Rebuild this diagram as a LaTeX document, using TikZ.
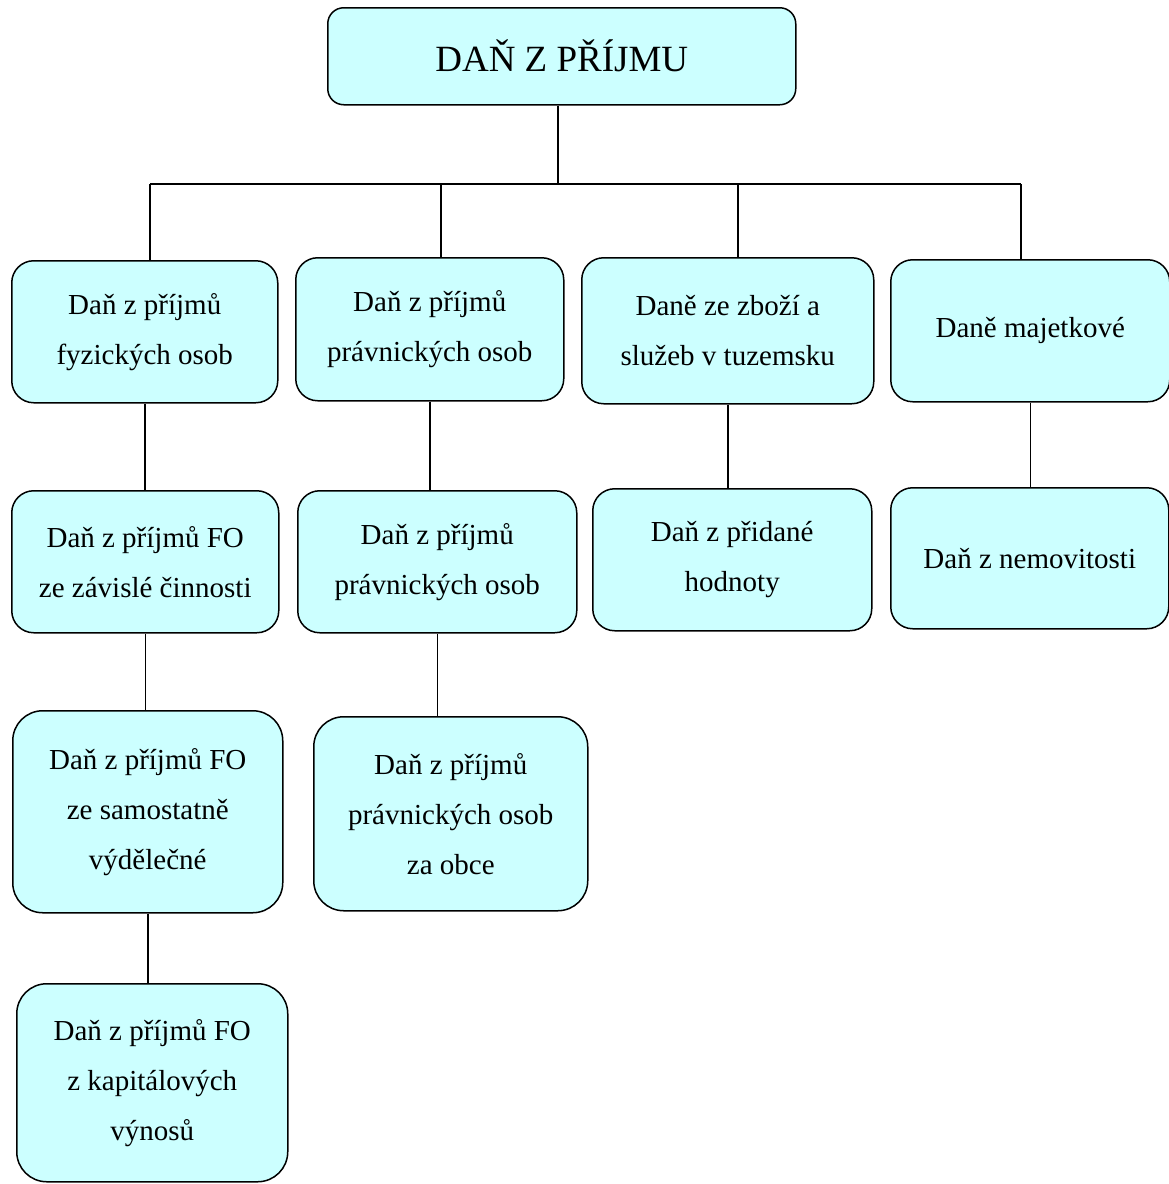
\documentclass[tikz,border=0pt]{standalone}
\usepackage{fontspec}
\setmainfont{Liberation Serif}
\definecolor{boxfill}{HTML}{CCFFFF}
\begin{document}
\begin{tikzpicture}[x=1pt,y=-1pt,
  box/.style={draw=black, fill=boxfill, line width=1.5pt, rounded corners=22pt,
    inner sep=0pt, anchor=north west, align=center,
    font=\fontsize{29}{50}\selectfont},
  conn/.style={line width=1.5pt}]
\useasboundingbox (0,0) rectangle (1169,1184);
% top
\node[box, rounded corners=16pt, minimum width=468pt, minimum height=97pt,
  font=\fontsize{37}{45}\selectfont] (top) at (327,7) {DAŇ Z PŘÍJMU};
% row 1
\node[box, minimum width=266pt, minimum height=142pt] (b1) at (11,260) {Daň z příjmů\\fyzických osob};
\node[box, minimum width=268pt, minimum height=143pt] (b2) at (295,257) {Daň z příjmů\\právnických osob};
\node[box, minimum width=292pt, minimum height=146pt] (b3) at (581,257) {Daně ze zboží a\\služeb v tuzemsku};
\node[box, minimum width=279pt, minimum height=142pt] (b4) at (890,259) {Daně majetkové};
% row 2
\node[box, minimum width=267pt, minimum height=142pt] (c1) at (11,490) {Daň z příjmů FO\\ze závislé činnosti};
\node[box, minimum width=279pt, minimum height=142pt] (c2) at (297,490) {Daň z příjmů\\právnických osob};
\node[box, minimum width=279pt, minimum height=142pt] (c3) at (592,488) {Daň z přidané\\hodnoty};
\node[box, minimum width=278pt, minimum height=141pt] (c4) at (890,487) {Daň z nemovitosti};
% row 3
\node[box, rounded corners=30pt, minimum width=270pt, minimum height=202pt] (d1) at (12,710) {Daň z příjmů FO\\ze samostatně\\výdělečné};
\node[box, rounded corners=30pt, minimum width=274pt, minimum height=194pt] (d2) at (313,716) {Daň z příjmů\\právnických osob\\za obce};
% row 4
\node[box, rounded corners=30pt, minimum width=271pt, minimum height=198pt] (e1) at (16,983) {Daň z příjmů FO\\z kapitálových\\výnosů};
% connectors
\coordinate (bar) at (558,184);
\coordinate (j1) at (150,184);
\coordinate (j2) at (441,184);
\coordinate (j3) at (738,184);
\coordinate (j4) at (1021,184);
\draw[conn] (top.south -| bar) -- (bar);
\draw[conn] (j1) -- (j4);
\draw[conn] (j1) -- (j1 |- b1.north);
\draw[conn] (j2) -- (j2 |- b2.north);
\draw[conn] (j3) -- (j3 |- b3.north);
\draw[conn] (j4) -- (j4 |- b4.north);
\draw[conn] (b1.south) -- (b1.south |- c1.north);
\draw[conn] (b2.south) -- (b2.south |- c2.north);
\draw[conn] (b3.south) -- (b3.south |- c3.north);
\draw[conn] (b4.south) -- (b4.south |- c4.north);
\draw[conn] (c1.south) -- (c1.south |- d1.north);
\draw[conn] (c2.south) -- (c2.south |- d2.north);
\draw[conn] (d1.south) -- (d1.south |- e1.north);
\end{tikzpicture}
\end{document}
